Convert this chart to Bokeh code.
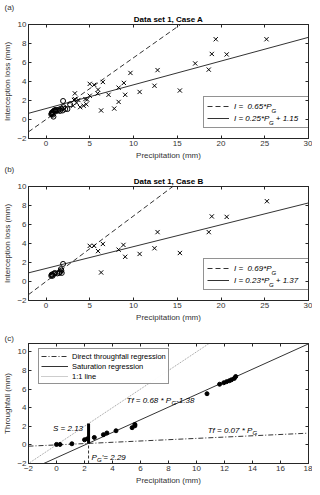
import numpy as np
from bokeh.plotting import figure
from bokeh.models import Range1d, LinearAxis, FixedTicker, Title, Legend, LegendItem, Label
from bokeh.layouts import column
from bokeh.embed import file_html
from bokeh.resources import INLINE
from bokeh.core.properties import value

# ---------------- data ----------------
# Panel (a): Data set 1, Case A
a_cross_x = [3.1, 3.2, 3.3, 3.3, 3.5, 3.7, 3.9, 4.3, 4.5, 4.6, 4.7, 5.0,
             5.0, 5.5, 5.95, 5.9, 6.5, 6.3, 7.15, 7.8, 8.3, 8.3, 8.9, 9.05,
             9.65, 10.7, 12.4, 12.75, 15.3, 17.05, 18.6, 18.95, 19.4, 20.65, 25.2]
a_cross_y = [1.45, 2.05, 2.75, 2.15, 1.75, 2.05, 1.3, 1.45, 2.15, 1.6, 2.1, 2.5,
             3.75, 3.65, 3.15, 2.75, 3.95, 0.95, 2.6, 1.15, 1.85, 3.35, 3.85, 2.6,
             4.9, 2.9, 3.55, 5.2, 3.05, 5.9, 5.25, 6.9, 8.45, 6.85, 8.45]
a_circ_x = [0.6, 0.65, 0.7, 0.75, 0.8, 0.85, 0.9, 1.0, 1.1, 1.2, 1.35, 1.5,
            1.6, 1.75, 1.9, 1.95, 2.2, 2.45, 2.75, 0.7, 1.05, 2.0]
a_circ_y = [0.55, 0.65, 0.75, 0.5, 0.8, 0.3, 0.9, 0.95, 0.85, 1.0, 0.95, 1.05,
            0.9, 1.15, 0.95, 1.95, 1.1, 1.1, 1.6, 0.6, 1.0, 1.3]
a_fit_origin_slope = 0.65
a_fit_slope, a_fit_icpt = 0.25, 1.15

# Panel (b): Data set 1, Case B
b_cross_x = [5.0, 5.5, 5.95, 6.5, 6.3, 8.3, 8.85, 9.05, 10.7, 12.4, 12.75,
             15.3, 18.6, 18.95, 20.65, 25.25]
b_cross_y = [3.75, 3.75, 3.2, 3.95, 0.95, 3.35, 3.85, 2.6, 2.9, 3.5, 5.2,
             3.0, 5.2, 6.85, 6.8, 8.45]
b_circ_x = [0.6, 0.65, 0.7, 0.75, 0.9, 1.0, 1.3, 1.5, 1.6, 1.7, 1.8, 1.75, 1.95]
b_circ_y = [0.6, 0.7, 0.75, 0.6, 0.8, 0.9, 0.85, 0.9, 1.0, 1.3, 0.9, 1.15, 1.85]
b_fit_origin_slope = 0.69
b_fit_slope, b_fit_icpt = 0.23, 1.37

# Panel (c): throughfall
c_x = [0.0, 0.25, 1.1, 2.0, 2.2, 2.7, 3.35, 3.6, 4.25, 5.4, 5.6, 5.6,
       10.75, 11.65, 11.95, 12.15, 12.35, 12.5, 12.7, 12.8]
c_y = [0.05, 0.05, 0.12, 0.55, 0.65, 0.8, 1.1, 1.28, 1.52, 1.85, 2.05, 2.2,
       5.5, 6.52, 6.68, 6.8, 6.9, 7.0, 7.15, 7.35]
c_direct_slope = 0.07
c_sat_slope, c_sat_icpt = 0.68, -1.38
c_pg = 2.29
c_s = 2.13

ab_xticks = [0, 5, 10, 15, 20, 25, 30]
ab_yticks = [-2, 0, 2, 4, 6, 8, 10]
c_xticks = [-2, 0, 2, 4, 6, 8, 10, 12, 14, 16, 18]
c_yticks = [-2, 0, 2, 4, 6, 8, 10]
ab_xrange = (-2, 30)
ab_yrange = (-2, 10)
c_xrange = (-2, 18)
c_yrange = (-2, 10.9)

# ---------------- style ----------------
FONT = "Liberation Sans"
AXC = "#262626"
TXT = "#333333"
W = 312
BL, BR = 24, 4
FW = W - BL - BR


def base_fig(h, top, bottom, xr, yr, xt, yt, xlabel, ylabel):
    p = figure(width=W, height=h, x_range=Range1d(*xr), y_range=Range1d(*yr),
               output_backend="svg", toolbar_location=None, title=None,
               min_border_left=BL, min_border_right=BR,
               min_border_top=top, min_border_bottom=bottom)
    p.xgrid.visible = False
    p.ygrid.visible = False
    p.outline_line_color = AXC
    p.xaxis.ticker = FixedTicker(ticks=xt)
    p.yaxis.ticker = FixedTicker(ticks=yt)
    p.xaxis.axis_label = xlabel
    p.yaxis.axis_label = ylabel
    for ax in (p.xaxis[0], p.yaxis[0]):
        ax.major_tick_in = 3
        ax.major_tick_out = 0
        ax.minor_tick_line_color = None
        ax.axis_line_color = AXC
        ax.major_tick_line_color = AXC
        ax.major_label_text_font = FONT
        ax.major_label_text_font_size = "8px"
        ax.major_label_text_color = TXT
        ax.major_label_standoff = 2
        ax.axis_label_text_font = FONT
        ax.axis_label_text_font_size = "8px"
        ax.axis_label_text_font_style = "normal"
        ax.axis_label_text_color = TXT
        ax.axis_label_standoff = 2
    for loc, t in (("above", xt), ("right", yt)):
        ax = LinearAxis(ticker=FixedTicker(ticks=t), major_tick_in=3, major_tick_out=0,
                        minor_tick_line_color=None, major_label_text_font_size="1px",
                        major_label_text_color=None, major_label_standoff=0,
                        axis_line_color=AXC, major_tick_line_color=AXC)
        p.add_layout(ax, loc)
    return p


def add_titles(p, main, tag):
    if main:
        p.add_layout(Title(text=main, align="center", text_font=FONT, text_font_size="8px",
                           text_font_style="bold", text_color="black", standoff=1), "above")
    p.add_layout(Title(text=tag, align="left", offset=-BL, text_font=FONT,
                       text_font_size="8px", text_font_style="normal", text_color=TXT,
                       standoff=1), "above")


def dlabel(p, x, y, text, dx=0, dy=0, size="8px"):
    p.add_layout(Label(x=x, y=y, x_offset=dx, y_offset=dy, text=text, text_font=FONT,
                       text_font_size=size, text_font_style="italic", text_color="black",
                       text_baseline="middle", text_align="left", level="overlay"))


def panel_ab(h, main, tag, cx, cy, ox, oy, s0, s1, i1):
    p = base_fig(h, 21, 24, ab_xrange, ab_yrange, ab_xticks, ab_yticks,
                 "Precipitation (mm)", "Interception loss (mm)")
    add_titles(p, main, tag)
    xs = np.array(ab_xrange, dtype=float)
    r_d = p.line(xs, s0 * xs, line_color="#333333", line_width=1, line_dash="5 3")
    r_s = p.line(xs, s1 * xs + i1, line_color="#333333", line_width=1)
    p.scatter(cx, cy, marker="x", size=6, line_color="black", line_width=1)
    p.scatter(ox, oy, marker="circle", size=5, line_color="black", fill_color=None,
              line_width=1)
    lw = 108
    lx, ly = FW - lw - 1, 10
    leg = Legend(items=[LegendItem(label=value("I =  %.2f*P   " % s0), renderers=[r_d]),
                        LegendItem(label=value("I = %.2f*P   + %.2f" % (s1, i1)), renderers=[r_s])],
                 location=(lx, ly), padding=3, spacing=0, glyph_width=22, glyph_height=12,
                 label_height=12, label_width=75, label_standoff=5, margin=0,
                 border_line_color=AXC, background_fill_alpha=0,
                 label_text_font=FONT, label_text_font_size="8px",
                 label_text_font_style="italic", label_text_color="black")
    p.add_layout(leg)
    tx = lx + 3 + 22 + 5
    # subscripts anchored at the frame's bottom-left corner, offset in pixels
    dlabel(p, ab_xrange[0], ab_yrange[0], "G", dx=tx + 37.9, dy=ly + 21 - 3, size="6px")
    dlabel(p, ab_xrange[0], ab_yrange[0], "G", dx=tx + 35.6, dy=ly + 9 - 3, size="6px")
    return p


pa = panel_ab(162, "Data set 1, Case A", "(a)", a_cross_x, a_cross_y,
              a_circ_x, a_circ_y, a_fit_origin_slope, a_fit_slope, a_fit_icpt)
pb = panel_ab(162, "Data set 1, Case B", "(b)", b_cross_x, b_cross_y,
              b_circ_x, b_circ_y, b_fit_origin_slope, b_fit_slope, b_fit_icpt)

# ---------------- panel (c) ----------------
FH_C = 120
pc = base_fig(163, 19, 24, c_xrange, c_yrange, c_xticks, c_yticks,
              "Precipitation (mm)", "Throughfall (mm)")
add_titles(pc, None, "(c)")
xs = np.array(c_xrange, dtype=float)
r_dd = pc.line(xs, c_direct_slope * xs, line_color="#333333", line_width=1, line_dash="5 2 1 2")
r_sat = pc.line(xs, c_sat_slope * xs + c_sat_icpt, line_color="#333333", line_width=1)
r_11 = pc.line(xs, xs, line_color="#9a9a9a", line_width=1, line_dash="1 1")
base = c_direct_slope * c_pg
pc.segment(x0=[c_pg], y0=[c_yrange[0]], x1=[c_pg], y1=[base], line_color="#333333",
           line_width=1, line_dash="3 2")
pc.segment(x0=[c_pg], y0=[base], x1=[c_pg], y1=[base + c_s], line_color="black",
           line_width=3)
pc.scatter(c_x, c_y, marker="circle", size=4, line_color="black", fill_color="black")

legc = Legend(items=[LegendItem(label=value("Direct throughfall regression"), renderers=[r_dd]),
                     LegendItem(label=value("Saturation regression"), renderers=[r_sat]),
                     LegendItem(label=value("1:1 line"), renderers=[r_11])],
              location=(10, FH_C - 7 - 34), padding=2, spacing=0, glyph_width=27,
              glyph_height=10, label_height=10, label_standoff=4, margin=0,
              border_line_color=AXC, label_text_font=FONT, label_text_font_size="7.5px",
              label_text_color="black")
pc.add_layout(legc)

dlabel(pc, 5.0, 4.8, "Tf = %.2f * P" % c_sat_slope)
dlabel(pc, 5.0, 4.8, "G", dx=44.9, dy=-3, size="6px")
dlabel(pc, 5.0, 4.8, "%.2f" % c_sat_icpt, dx=49.6)
dlabel(pc, 10.8, 1.55, "Tf = %.2f * P" % c_direct_slope)
dlabel(pc, 10.8, 1.55, "G", dx=44.9, dy=-3, size="6px")
dlabel(pc, -0.25, 1.75, "S  = %.2f" % c_s)
dlabel(pc, 2.5, -1.35, "P")
dlabel(pc, 2.5, -1.35, "G", dx=5.6, dy=-3, size="6px")
dlabel(pc, 2.5, -1.35, "'= %.2f" % c_pg, dx=10.3)

layout = column(pa, pb, pc, spacing=0)
open("out.html", "w").write(file_html(layout, INLINE))
